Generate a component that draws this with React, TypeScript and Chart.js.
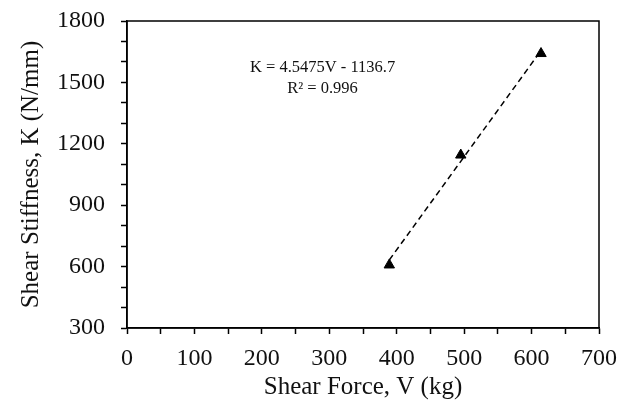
import React, { useEffect, useRef } from "react";
import { Chart, registerables } from "chart.js";

Chart.register(...registerables);

const shearForce = [389, 495, 614];
const shearStiffness = [608, 1145, 1641];
const slope = 4.5475;
const intercept = -1136.7;
const equationLines = ["K = 4.5475V - 1136.7", "R\u00B2 = 0.996"];
const xTitle = "Shear Force, V (kg)";
const yTitle = "Shear Stiffness, K (N/mm)";

const FONT = "'Liberation Serif', 'Times New Roman', serif";

const framePlugin = {
  id: "frame",
  afterDraw(chart: any) {
    const { ctx, chartArea } = chart;
    ctx.save();
    ctx.strokeStyle = "#000";
    ctx.lineWidth = 1.5;
    ctx.strokeRect(chartArea.left, chartArea.top, chartArea.right - chartArea.left, chartArea.bottom - chartArea.top);
    ctx.fillStyle = "#111";
    ctx.font = `16.5px ${FONT}`;
    ctx.textAlign = "center";
    ctx.textBaseline = "middle";
    const xs = chart.scales.x;
    const ys = chart.scales.y;
    const cx = xs.getPixelForValue(290);
    ctx.fillText(equationLines[0], cx, ys.getPixelForValue(1570));
    ctx.fillText(equationLines[1], cx, ys.getPixelForValue(1468));
    ctx.restore();
  },
};

export default function App() {
  const ref = useRef<HTMLCanvasElement>(null);
  useEffect(() => {
    if (!ref.current) return;
    const xMin = shearForce[0];
    const xMax = shearForce[shearForce.length - 1];
    const chart = new Chart(ref.current, {
      type: "scatter",
      data: {
        datasets: [
          {
            label: "trend",
            data: [
              { x: xMin, y: slope * xMin + intercept },
              { x: xMax, y: slope * xMax + intercept },
            ],
            showLine: true,
            borderColor: "#000",
            borderWidth: 1.5,
            borderDash: [6, 4],
            pointRadius: 0,
            fill: false,
          },
          {
            label: "data",
            data: shearForce.map((v, i) => ({ x: v, y: shearStiffness[i] })),
            pointStyle: "triangle",
            pointRadius: 6,
            backgroundColor: "#000",
            borderColor: "#000",
            borderWidth: 1,
          },
        ],
      },
      options: {
        animation: false,
        responsive: true,
        maintainAspectRatio: false,
        layout: { padding: { top: 21, right: 21, left: 12, bottom: 0 } },
        plugins: { legend: { display: false }, tooltip: { enabled: false } },
        scales: {
          x: {
            type: "linear",
            min: 0,
            max: 700,
            afterFit(s: any) {
              s.height = 80;
              s.paddingLeft = 0;
              s.paddingRight = 0;
            },
            ticks: {
              stepSize: 50,
              autoSkip: false,
              maxRotation: 0,
              padding: 10,
              color: "#111",
              font: { family: FONT, size: 24 },
              callback: (v: any) => (Number(v) % 100 === 0 ? String(v) : ""),
            },
            grid: { drawOnChartArea: false, tickLength: 6, color: "#000", tickWidth: 1.5 },
            border: { color: "#000", width: 1.5 },
            title: { display: true, text: xTitle, color: "#111", font: { family: FONT, size: 25 }, padding: { top: 2, bottom: 6 } },
          },
          y: {
            type: "linear",
            min: 300,
            max: 1800,
            afterFit(s: any) {
              s.width = 115;
              s.paddingTop = 0;
              s.paddingBottom = 0;
            },
            ticks: {
              stepSize: 100,
              autoSkip: false,
              padding: 16,
              color: "#111",
              font: { family: FONT, size: 24 },
              callback: (v: any) => (Number(v) % 300 === 0 ? String(v) : ""),
            },
            grid: { drawOnChartArea: false, tickLength: 6, color: "#000", tickWidth: 1.5 },
            border: { color: "#000", width: 1.5 },
            title: { display: true, text: yTitle, color: "#111", font: { family: FONT, size: 25 }, padding: { bottom: 4 } },
          },
        },
      },
      plugins: [framePlugin],
    });
    return () => chart.destroy();
  }, []);
  return (
    <div style={{ position: "fixed", left: 0, top: 0, width: 620, height: 408, background: "#fff" }}>
      <canvas ref={ref} />
    </div>
  );
}
